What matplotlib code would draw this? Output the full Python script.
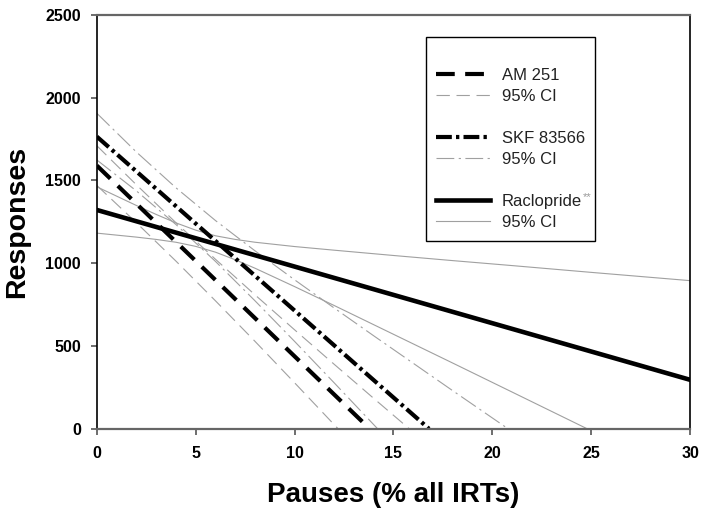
import matplotlib

matplotlib.use("Agg")
import matplotlib.pyplot as plt
from matplotlib.lines import Line2D

plt.rcParams["font.family"] = ["Liberation Sans", "DejaVu Sans"]

# regression lines
am_x = [0, 13.8]
am_y = [1590, 0]
skf_x = [0, 16.8]
skf_y = [1765, 0]
rac_x = [0, 30]
rac_y = [1322, 296]

# 95% confidence bands
am_up_x = [0, 2, 4, 6, 8, 10, 12, 14, 15.8]
am_up_y = [1710, 1474, 1245, 1024, 809, 598, 390, 184, 0]
am_lo_x = [0, 2, 4, 6, 8, 10, 12.2]
am_lo_y = [1470, 1245, 1013, 773, 528, 278, 0]

skf_up_x = [0, 2, 4, 6, 8, 10, 12, 14, 16, 18, 20.8]
skf_up_y = [1906, 1672, 1456, 1258, 1075, 900, 730, 562, 396, 230, 0]
skf_lo_x = [0, 2, 4, 6, 8, 10, 12, 14.2]
skf_lo_y = [1624, 1437, 1234, 1011, 773, 528, 278, 0]

rac_up_x = [0, 2, 3, 4, 5, 6, 7, 8, 10, 12, 15, 18, 21, 25, 30]
rac_up_y = [1462, 1349, 1295, 1244, 1200, 1166, 1144, 1127, 1101, 1079, 1047, 1016, 986, 945, 895]
rac_lo_x = [0, 2, 3, 4, 5, 6, 7, 8, 10, 12, 15, 18, 21, 24.8]
rac_lo_y = [1182, 1158, 1144, 1127, 1102, 1067, 1021, 970, 859, 745, 571, 397, 222, 0]

x_ticks = [0, 5, 10, 15, 20, 25, 30]
y_ticks = [0, 500, 1000, 1500, 2000, 2500]

ci_color = "#a0a0a0"
ci_lw = 0.8
thick = 3.0

fig = plt.figure(figsize=(7.07, 5.16), dpi=100)
ax = fig.add_axes((0.137, 0.169, 0.839, 0.802))

# thin CI curves first, thick lines on top
ax.plot(am_up_x, am_up_y, color=ci_color, lw=ci_lw, dashes=(12, 6))
ax.plot(am_lo_x, am_lo_y, color=ci_color, lw=ci_lw, dashes=(12, 6))
ax.plot(skf_up_x, skf_up_y, color=ci_color, lw=ci_lw, dashes=(16, 4, 2, 4))
ax.plot(skf_lo_x, skf_lo_y, color=ci_color, lw=ci_lw, dashes=(16, 4, 2, 4))
ax.plot(rac_up_x, rac_up_y, color=ci_color, lw=ci_lw)
ax.plot(rac_lo_x, rac_lo_y, color=ci_color, lw=ci_lw)

(am_line,) = ax.plot(am_x, am_y, color="black", lw=thick, dashes=(4.5, 2.5))
(skf_line,) = ax.plot(skf_x, skf_y, color="black", lw=thick, dashes=(3.8, 1.0, 0.8, 1.0))
(rac_line,) = ax.plot(rac_x, rac_y, color="black", lw=3.3)

ax.set_xlim(0, 30)
ax.set_ylim(0, 2500)
ax.set_xticks(x_ticks)
ax.set_yticks(y_ticks)

for side in ["top", "bottom"]:
    ax.spines[side].set_color("#666666")
    ax.spines[side].set_linewidth(1.6)
for side in ["left", "right"]:
    ax.spines[side].set_color("black")
    ax.spines[side].set_linewidth(1.2)

ax.tick_params(axis="both", direction="out", length=4.5, width=1.2, color="#555555",
               labelsize=11.5)
ax.tick_params(axis="x", pad=8)
ax.tick_params(axis="y", pad=7)
for lab in ax.get_xticklabels() + ax.get_yticklabels():
    lab.set_fontweight("bold")

ax.set_xlabel("Pauses (% all IRTs)", fontsize=20, fontweight="bold", labelpad=15)
ax.set_ylabel("Responses", fontsize=20.5, fontweight="bold", labelpad=11)

# legend with blank rows between the groups
spacer = Line2D([], [], linestyle="none")
am_ci = Line2D([], [], color=ci_color, lw=ci_lw, dashes=(12, 6))
skf_ci = Line2D([], [], color=ci_color, lw=ci_lw, dashes=(16, 4, 2, 4))
rac_ci = Line2D([], [], color=ci_color, lw=ci_lw)
handles = [spacer, am_line, am_ci, spacer, skf_line, skf_ci, spacer, rac_line, rac_ci]
labels = [" ", "AM 251", "95% CI", " ", "SKF 83566", "95% CI", " ", "Raclopride", "95% CI"]
leg = ax.legend(handles, labels, loc="upper left", bbox_to_anchor=(0.555, 0.947),
                borderaxespad=0, fontsize=12, frameon=True, fancybox=False,
                edgecolor="black", framealpha=1, handlelength=3.2, handletextpad=0.72,
                labelspacing=0.36, borderpad=0.62)
leg.get_frame().set_linewidth(1.0)
for t in leg.get_texts():
    t.set_color("#222222")

# superscript stars after Raclopride
fig.canvas.draw()
bb = leg.get_texts()[7].get_window_extent()
W, H = fig.bbox.width, fig.bbox.height
fig.text((bb.x1 + 1) / W, (bb.y1 - 3) / H, "**", fontsize=8, color="#999999",
         ha="left", va="center")

fig.savefig("out.png", dpi=100)
